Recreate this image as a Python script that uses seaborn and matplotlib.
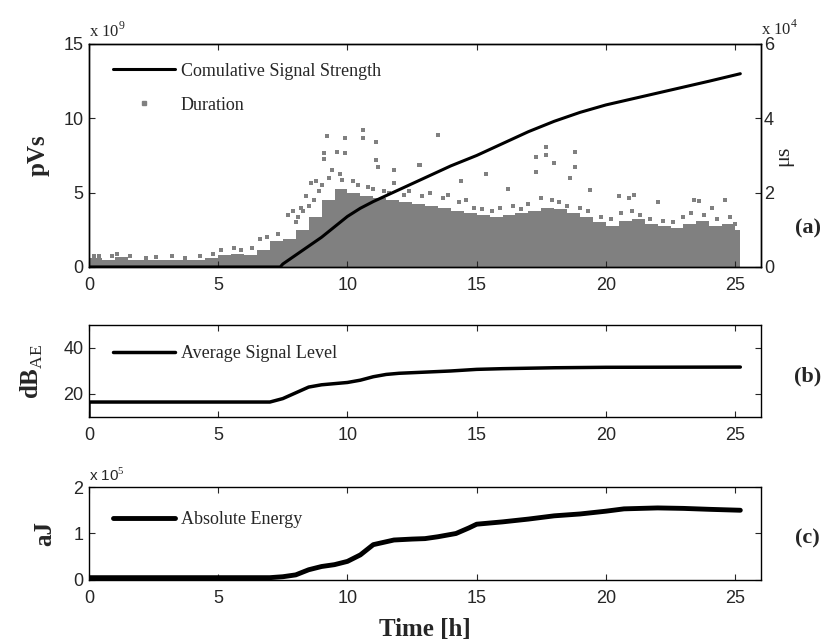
import numpy as np
import pandas as pd
import matplotlib
matplotlib.use("Agg")
import matplotlib.pyplot as plt
import seaborn as sns

# ---- data ----
# (a) cumulative signal strength, in 1e9 pVs
cum_t = [0, 7.4, 7.5, 8, 8.5, 9, 9.5, 10, 10.5, 11, 11.5, 12, 13, 14, 15, 16, 17, 18, 19, 20, 21, 22, 23, 24, 25.2]
cum_v = [0, 0, 0.2, 0.8, 1.4, 2.0, 2.7, 3.4, 3.95, 4.4, 4.8, 5.2, 6.0, 6.8, 7.5, 8.3, 9.1, 9.8, 10.4, 10.9, 11.3, 11.7, 12.1, 12.5, 13.0]

# (a) duration, in 1e4 us: top of the dense cloud every half hour
dur_t = [0, 0.5, 1, 1.5, 2, 2.5, 3, 3.5, 4, 4.5, 5, 5.5, 6, 6.5, 7, 7.5, 8, 8.5, 9, 9.5,
         10, 10.5, 11, 11.5, 12, 12.5, 13, 13.5, 14, 14.5, 15, 15.5, 16, 16.5, 17, 17.5,
         18, 18.5, 19, 19.5, 20, 20.5, 21, 21.5, 22, 22.5, 23, 23.5, 24, 24.5, 25, 25.2]
dur_top = [0.25, 0.2, 0.28, 0.2, 0.18, 0.18, 0.2, 0.2, 0.18, 0.25, 0.32, 0.35, 0.33, 0.45, 0.7, 0.75,
           1.0, 1.35, 1.8, 2.1, 2.0, 1.9, 1.85, 1.8, 1.75, 1.7, 1.65, 1.6, 1.5, 1.45, 1.4, 1.35,
           1.4, 1.45, 1.5, 1.6, 1.55, 1.45, 1.35, 1.2, 1.1, 1.25, 1.3, 1.15, 1.1, 1.05, 1.15,
           1.25, 1.1, 1.15, 1.0, 0.5]
# (a) duration, points along the ragged top of the cloud
edge_t = [0.4, 0.9, 2.2, 3.7, 4.8, 5.9, 6.3, 8.0, 8.1, 8.3, 8.5, 8.7, 8.9, 9.0, 9.3, 9.4, 9.7,
          9.8, 10.2, 10.4, 10.8, 11.0, 11.4, 11.6, 12.2, 12.4, 12.9, 13.2, 13.7, 13.9, 14.3,
          14.6, 14.9, 15.2, 15.6, 15.9, 16.4, 16.7, 17.0, 17.5, 17.9, 18.2, 18.5, 19.0, 19.3,
          19.8, 20.2, 20.6, 21.0, 21.3, 21.7, 22.2, 22.6, 23.0, 23.3, 23.8, 24.3, 24.8, 25.0]
edge_v = [0.3, 0.3, 0.25, 0.25, 0.35, 0.45, 0.5, 1.2, 1.35, 1.5, 1.65, 1.8, 2.05, 2.2, 2.4, 2.6,
          2.5, 2.35, 2.3, 2.2, 2.15, 2.1, 2.05, 2.0, 1.95, 2.05, 1.9, 2.0, 1.85, 1.95, 1.75, 1.8,
          1.6, 1.55, 1.5, 1.6, 1.65, 1.55, 1.7, 1.85, 1.8, 1.75, 1.65, 1.6, 1.5, 1.35, 1.3,
          1.45, 1.5, 1.4, 1.3, 1.25, 1.2, 1.35, 1.45, 1.4, 1.3, 1.35, 1.15]
# (a) duration, single points sticking out of the cloud
out_t = [0.2, 1.1, 1.6, 2.6, 3.2, 4.3, 5.1, 5.6, 6.6, 6.9, 7.3, 7.7, 7.9, 8.2, 8.4, 8.6, 8.8, 9.1,
         9.1, 9.2, 9.6, 9.9, 9.9, 10.6, 10.6, 11.1, 11.1, 11.2, 11.8, 11.8, 12.75, 12.8, 13.5,
         14.4, 15.35, 16.2, 17.3, 17.3, 17.7, 17.7, 18.0, 18.6, 18.8, 18.8, 19.4, 20.5, 20.9,
         21.1, 22.0, 23.4, 23.6, 24.1, 24.6]
out_v = [0.3, 0.35, 0.3, 0.28, 0.3, 0.3, 0.45, 0.5, 0.75, 0.8, 0.9, 1.4, 1.5, 1.6, 1.9, 2.26, 2.3,
         2.9, 3.07, 3.52, 3.1, 3.47, 3.06, 3.68, 3.47, 3.37, 2.88, 2.7, 2.6, 2.26, 2.74, 2.74, 3.55,
         2.3, 2.5, 2.1, 2.97, 2.55, 3.23, 3.0, 2.8, 2.4, 3.1, 2.7, 2.07, 1.9, 1.85, 1.93, 1.75,
         1.8, 1.78, 1.6, 1.8]

# (b) average signal level, dB_AE
sig_t = [0, 0, 7, 7.5, 8, 8.5, 9, 9.5, 10, 10.5, 11, 11.5, 12, 13, 14, 15, 16, 17, 18, 19, 20, 25.2]
sig_v = [10, 16.5, 16.5, 18, 20.5, 23, 24, 24.5, 25, 26, 27.5, 28.5, 29, 29.5, 30, 30.7, 31, 31.2, 31.4, 31.5, 31.6, 31.7]

# (c) absolute energy, in 1e5 aJ
ae_t = [0, 7, 7.5, 8, 8.5, 9, 9.5, 10, 10.5, 11, 11.8, 12.5, 13, 13.5, 14.2, 14.7, 15, 16, 17, 18, 19, 20, 20.7, 22, 23, 24, 25.2]
ae_v = [0.05, 0.05, 0.07, 0.11, 0.22, 0.29, 0.33, 0.4, 0.54, 0.76, 0.86, 0.88, 0.89, 0.93, 1.0, 1.12, 1.2, 1.25, 1.31, 1.38, 1.42, 1.48, 1.53, 1.55, 1.54, 1.52, 1.50]

xticks = [0, 5, 10, 15, 20, 25]

# ---- style ----
sns.set_style("ticks")
plt.rcParams['font.family'] = ['Liberation Sans', 'DejaVu Sans']
plt.rcParams['mathtext.fontset'] = 'custom'
plt.rcParams['mathtext.rm'] = 'Liberation Serif'
plt.rcParams['mathtext.bf'] = 'Liberation Serif:bold'
plt.rcParams['xtick.direction'] = 'in'
plt.rcParams['ytick.direction'] = 'in'
plt.rcParams['axes.linewidth'] = 1.0
plt.rcParams['axes.edgecolor'] = 'black'

serif = ['Liberation Serif', 'DejaVu Serif']
tick_fs = 13
gray = '#808080'
leg_kw = dict(loc='upper left', frameon=False, prop={'family': serif, 'size': 13},
              handlelength=3.4, handletextpad=0.35, borderaxespad=0.2)

fig = plt.figure(figsize=(8.26, 6.43), dpi=100)
ax_a = fig.add_axes([0.1077, 0.5848, 0.8136, 0.3468])
ax_b = fig.add_axes([0.1077, 0.3515, 0.8136, 0.1431])
ax_c = fig.add_axes([0.1077, 0.0980, 0.8136, 0.1446])

# ---- (a) ----
ax_r = ax_a.twinx()
ax_r.fill_between(dur_t, 0, dur_top, step='post', color=gray, linewidth=0)
sns.scatterplot(x=edge_t, y=edge_v, ax=ax_r, marker='s', s=12, color=gray, linewidth=0)
sns.scatterplot(x=out_t, y=out_v, ax=ax_r, marker='s', s=12, color=gray, linewidth=0)
ax_r.set_ylim(0, 6)
ax_r.set_yticks([0, 2, 4, 6])
ax_r.tick_params(labelsize=tick_fs, length=4, pad=2)
ax_r.set_ylabel('μs', family=serif, fontsize=16, rotation=90, labelpad=0)

ax_a.set_zorder(ax_r.get_zorder() + 1)
ax_a.patch.set_visible(False)
sns.lineplot(x=cum_t, y=cum_v, ax=ax_a, color='black', linewidth=2.2, sort=False, estimator=None)
ax_a.set_ylim(0, 15)
ax_a.set_yticks([0, 5, 10, 15])
ax_a.set_ylabel('pVs', family=serif, fontsize=18, fontweight='bold')
ax_a.yaxis.set_label_coords(-0.058, 0.5)
ax_a.text(0.0, 1.015, r'x 10$^9$', transform=ax_a.transAxes, family=serif, fontsize=12, va='bottom')
ax_r.text(1.0, 1.025, r'x 10$^4$', transform=ax_r.transAxes, family=serif, fontsize=12, va='bottom')

dur_handle = plt.Line2D([], [], marker='s', markersize=3.5, color=gray, linestyle='none')
line_handle = ax_a.get_lines()[0]
ax_a.legend([line_handle, dur_handle], ['Comulative Signal Strength', 'Duration'],
            bbox_to_anchor=(0.02, 0.965), labelspacing=0.95, **leg_kw)

# ---- (b) ----
sns.lineplot(x=sig_t, y=sig_v, ax=ax_b, color='black', linewidth=2.5, sort=False, estimator=None,
             label='Average Signal Level')
ax_b.set_ylim(10, 50)
ax_b.set_yticks([20, 40])
ax_b.set_ylabel(r'$\mathbf{dB}_{\mathrm{AE}}$', fontsize=18)
ax_b.yaxis.set_label_coords(-0.066, 0.5)
ax_b.legend(bbox_to_anchor=(0.02, 0.9), **leg_kw)

# ---- (c) ----
sns.lineplot(x=ae_t, y=ae_v, ax=ax_c, color='black', linewidth=3.5, sort=False, estimator=None,
             label='Absolute Energy')
ax_c.set_ylim(0, 2)
ax_c.set_yticks([0, 1, 2])
ax_c.set_ylabel('aJ', family=serif, fontsize=18, fontweight='bold')
ax_c.yaxis.set_label_coords(-0.048, 0.5)
ax_c.text(0.0, 1.03, r'x 10$^5$', transform=ax_c.transAxes, fontsize=11, va='bottom')
ax_c.set_xlabel('Time [h]', family=serif, fontsize=18, fontweight='bold', labelpad=8)
ax_c.legend(bbox_to_anchor=(0.02, 0.86), **leg_kw)

for ax in (ax_a, ax_b, ax_c):
    ax.set_xlim(0, 26)
    ax.set_xticks(xticks)
    ax.tick_params(labelsize=tick_fs, length=4, top=True, pad=4)
    ax.tick_params(axis='x', pad=7)
    for sp in ax.spines.values():
        sp.set_visible(True)
for ax in (ax_b, ax_c):
    ax.tick_params(right=True)
ax_a.tick_params(right=False)

fig.text(0.978, 0.645, '(a)', family=serif, fontsize=16, fontweight='bold', ha='center', va='center')
fig.text(0.978, 0.415, '(b)', family=serif, fontsize=16, fontweight='bold', ha='center', va='center')
fig.text(0.978, 0.163, '(c)', family=serif, fontsize=16, fontweight='bold', ha='center', va='center')

fig.savefig('out.png', dpi=100)
